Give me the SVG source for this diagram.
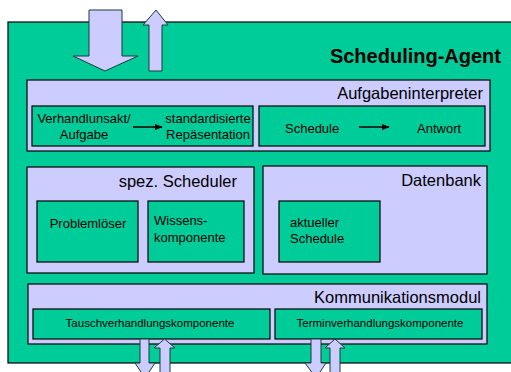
<svg xmlns="http://www.w3.org/2000/svg" width="511" height="372" viewBox="0 0 511 372">
<defs>
<style>
text{font-family:"Liberation Sans",Arial,sans-serif;fill:#000}
.g{fill:#00CC99;stroke:#000;stroke-width:1.2}
.l{fill:#CCCCFF;stroke:#000;stroke-width:1.2}
.ar{fill:#CCCCFF;stroke:#1a3a3a;stroke-width:1}
.t13{font-size:13px}
.t16{font-size:16.5px}
.t11{font-size:11.5px}
.ln{stroke:#000;stroke-width:1.5;fill:none}
</style>
<marker id="ah" viewBox="0 0 10 10" refX="9" refY="5" markerWidth="8" markerHeight="8" markerUnits="userSpaceOnUse" orient="auto">
<path d="M0,1 L10,5 L0,9 z" fill="#000"/>
</marker>
</defs>
<rect width="511" height="372" fill="#fff"/>
<g id="agent">
<rect class="g" x="8" y="22" width="510" height="341"/>
<text x="501" y="63" font-size="20" font-weight="bold" text-anchor="end">Scheduling-Agent</text>
</g>
<g id="aufgabeninterpreter">
<rect class="l" x="27" y="80" width="463" height="71"/>
<text class="t16" x="483" y="99" text-anchor="end">Aufgabeninterpreter</text>
</g>
<g id="verhandlung">
<rect class="g" x="32" y="106" width="221" height="40"/>
<text class="t13" x="84" y="123" text-anchor="middle">Verhandlunsakt/</text>
<text class="t13" x="84" y="139" text-anchor="middle">Aufgabe</text>
<text class="t13" x="208" y="123" text-anchor="middle">standardisierte</text>
<text class="t13" x="208" y="139" text-anchor="middle">Repäsentation</text>
</g>
<g id="schedule-antwort">
<rect class="g" x="259" y="106" width="226" height="40"/>
<text class="t13" x="285" y="133">Schedule</text>
<text class="t13" x="417" y="133">Antwort</text>
</g>
<g id="spez-scheduler">
<rect class="l" x="27" y="167" width="227" height="106"/>
<text class="t16" x="237" y="187" text-anchor="end">spez. Scheduler</text>
</g>
<g id="problemloeser">
<rect class="g" x="37" y="201" width="101" height="61"/>
<text class="t13" x="88" y="228" text-anchor="middle">Problemlöser</text>
</g>
<g id="wissenskomponente">
<rect class="g" x="148" y="201" width="96" height="61"/>
<text class="t13" x="154" y="225">Wissens-</text>
<text class="t13" x="154" y="242">komponente</text>
</g>
<g id="datenbank">
<rect class="l" x="263" y="166" width="224" height="108"/>
<text class="t16" x="481" y="186" text-anchor="end">Datenbank</text>
</g>
<g id="aktueller-schedule">
<rect class="g" x="279" y="201" width="101" height="61"/>
<text class="t13" x="290" y="227">aktueller</text>
<text class="t13" x="290" y="243">Schedule</text>
</g>
<g id="kommunikationsmodul">
<rect class="l" x="28" y="284" width="459" height="60"/>
<text class="t16" x="481" y="303" text-anchor="end">Kommunikationsmodul</text>
</g>
<g id="tauschverhandlung">
<rect class="g" x="33" y="309" width="237" height="30"/>
<text class="t11" x="150" y="327" text-anchor="middle">Tauschverhandlungskomponente</text>
</g>
<g id="terminverhandlung">
<rect class="g" x="275" y="309" width="207" height="30"/>
<text class="t11" x="380" y="327" text-anchor="middle">Terminverhandlungskomponente</text>
</g>
<g id="connectors">
<line class="ln" x1="133" y1="127" x2="162" y2="127" marker-end="url(#ah)"/>
<line class="ln" x1="359" y1="127" x2="389" y2="127" marker-end="url(#ah)"/>
<path class="ar" d="M89,10 H122 V56 H138 L105,71 L73,56 H89 Z"/>
<path class="ar" d="M149,71 V25 H143 L156,10 L168,25 H162 V71 Z"/>
<path class="ar" d="M140,339 V363 H135 L145,378 L155,363 H149 V339 Z"/>
<path class="ar" d="M160,380 V348 H154 L164.5,339 L175,348 H170 V380 Z"/>
<path class="ar" d="M311,339 V363 H305 L316,378 L326,363 H321 V339 Z"/>
<path class="ar" d="M330,380 V348 H325 L335,339 L345,348 H340 V380 Z"/>
</g>
</svg>
